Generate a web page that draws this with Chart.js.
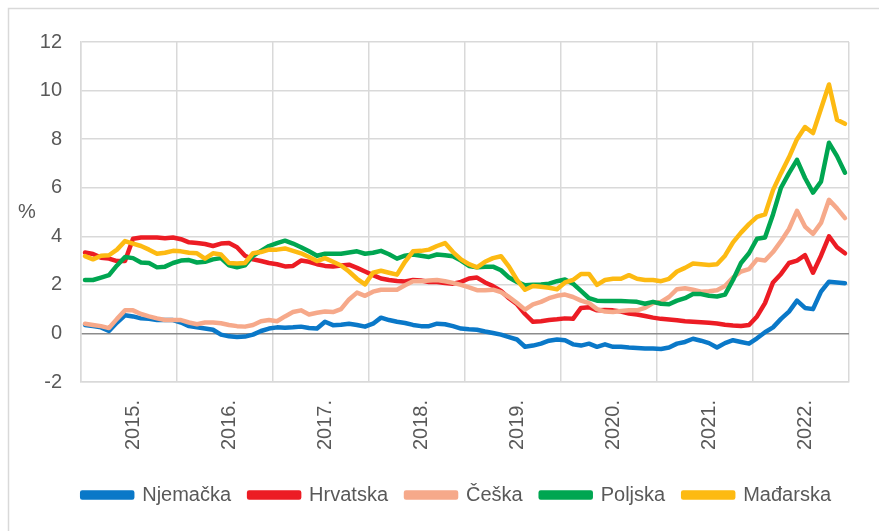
<!DOCTYPE html>
<html>
<head>
<meta charset="utf-8">
<script src="https://cdn.jsdelivr.net/npm/chart.js@4/dist/chart.umd.min.js"></script>
<style>
  html, body { margin: 0; padding: 0; background: #fff; }
  canvas { display: block; }
</style>
</head>
<body>
<canvas id="chart" width="879" height="531"></canvas>
<script>
const years = ['2015.', '2016.', '2017.', '2018.', '2019.', '2020.', '2021.', '2022.'];

// monthly categories, 12 per year
const months = [];
for (let y = 2015; y <= 2022; y++) {
    for (let m = 1; m <= 12; m++) {
        months.push(y + '-' + String(m).padStart(2, '0'));
    }
}

const njemacka = [
    0.35, 0.3, 0.25, 0.1, 0.45, 0.75, 0.7, 0.62, 0.6, 0.55, 0.55, 0.55,
    0.45, 0.3, 0.25, 0.2, 0.15, -0.05, -0.12, -0.15, -0.13, -0.05, 0.1, 0.2,
    0.25, 0.23, 0.25, 0.28, 0.22, 0.2, 0.48, 0.34, 0.36, 0.4, 0.35, 0.28,
    0.4, 0.65, 0.55, 0.48, 0.43, 0.35, 0.3, 0.3, 0.4, 0.38, 0.3, 0.2,
    0.17, 0.15, 0.08, 0.02, -0.05, -0.15, -0.25, -0.55, -0.5, -0.42, -0.3, -0.25,
    -0.28, -0.45, -0.5, -0.42, -0.55, -0.45, -0.55, -0.55, -0.58, -0.6, -0.62, -0.62,
    -0.64, -0.58, -0.42, -0.35, -0.22, -0.3, -0.4, -0.58, -0.4, -0.28, -0.35, -0.42,
    -0.2, 0.05, 0.25, 0.6, 0.9, 1.35, 1.05, 1.0, 1.72, 2.13, 2.1, 2.07
];
const hrvatska = [
    3.33, 3.27, 3.12, 3.08, 2.98, 2.98, 3.9, 3.95, 3.95, 3.95, 3.92, 3.95,
    3.88, 3.75, 3.72, 3.68, 3.6, 3.7, 3.72, 3.55, 3.2, 3.05, 2.98, 2.9,
    2.85, 2.76, 2.78, 3.0, 2.95, 2.85, 2.78, 2.76, 2.8, 2.83, 2.7, 2.55,
    2.4, 2.26, 2.2, 2.16, 2.14, 2.2, 2.18, 2.12, 2.12, 2.08, 2.05, 2.12,
    2.26, 2.3, 2.1, 1.95, 1.75, 1.45, 1.2, 0.8, 0.48, 0.5, 0.55, 0.58,
    0.62, 0.6, 1.05, 1.08, 0.95, 0.96, 0.95, 0.9, 0.82, 0.78, 0.72, 0.65,
    0.6, 0.57, 0.54, 0.5, 0.48, 0.46, 0.44, 0.41, 0.36, 0.33, 0.31, 0.35,
    0.7, 1.25, 2.1, 2.45, 2.9, 3.0, 3.22, 2.5, 3.2, 4.0, 3.55, 3.3
];
const ceska = [
    0.4, 0.35, 0.3, 0.22, 0.6, 0.95, 0.95, 0.8, 0.7, 0.62, 0.55, 0.55,
    0.55, 0.45, 0.38, 0.45, 0.45, 0.42, 0.35, 0.3, 0.28, 0.35, 0.5, 0.55,
    0.5, 0.7, 0.88, 0.95, 0.78, 0.85, 0.9, 0.88, 1.0, 1.4, 1.68, 1.55,
    1.72, 1.8, 1.8, 1.8, 1.98, 2.15, 2.15, 2.18, 2.2, 2.15, 2.08, 2.0,
    1.9, 1.78, 1.78, 1.8, 1.7, 1.5, 1.25, 0.98, 1.2, 1.3, 1.45, 1.55,
    1.6, 1.5, 1.35, 1.25, 1.0, 0.9, 0.88, 0.92, 0.95, 0.95, 1.05, 1.25,
    1.3, 1.5, 1.82, 1.86, 1.8, 1.72, 1.74, 1.78, 1.95, 2.3, 2.55, 2.65,
    3.05, 3.0, 3.35, 3.8, 4.3, 5.05, 4.4, 4.1, 4.55, 5.5, 5.15, 4.75
];
const poljska = [
    2.2, 2.2, 2.3, 2.4, 2.8, 3.15, 3.1, 2.92, 2.9, 2.72, 2.75, 2.9,
    3.0, 3.02, 2.92, 2.95, 3.05, 3.1, 2.8, 2.72, 2.8, 3.2, 3.4, 3.6,
    3.72, 3.82, 3.7, 3.55, 3.38, 3.2, 3.28, 3.28, 3.28, 3.33, 3.38, 3.28,
    3.32, 3.4, 3.26, 3.08, 3.2, 3.25, 3.2, 3.15, 3.25, 3.22, 3.18, 3.0,
    2.78, 2.72, 2.75, 2.75, 2.6, 2.3, 2.12, 1.98, 2.0, 2.02, 2.05, 2.15,
    2.22, 2.05, 1.75, 1.45, 1.35, 1.34, 1.34, 1.34, 1.32, 1.3, 1.22, 1.3,
    1.22, 1.2, 1.35, 1.45, 1.62, 1.62, 1.55, 1.52, 1.6, 2.2, 2.9, 3.3,
    3.9, 3.95, 4.9, 6.0, 6.6, 7.15, 6.4, 5.8, 6.25, 7.85, 7.3, 6.62
];
const madarska = [
    3.18, 3.05, 3.2, 3.22, 3.45, 3.8, 3.7, 3.6, 3.45, 3.28, 3.32, 3.4,
    3.38, 3.32, 3.3, 3.08, 3.3, 3.25, 2.9, 2.88, 2.9, 3.3, 3.35, 3.45,
    3.45, 3.5, 3.4, 3.3, 3.15, 2.98, 3.1, 2.95, 2.8, 2.55, 2.25, 2.02,
    2.5, 2.58, 2.5, 2.42, 2.95, 3.38, 3.4, 3.45, 3.6, 3.72, 3.35, 3.05,
    2.85, 2.72, 2.95, 3.1, 3.18, 2.75, 2.2, 1.8, 1.95, 1.92, 1.88, 1.82,
    2.1, 2.2, 2.45, 2.45, 2.0, 2.2, 2.25, 2.25, 2.4, 2.25, 2.2, 2.2,
    2.15, 2.25, 2.55, 2.7, 2.88, 2.85, 2.82, 2.85, 3.2, 3.75, 4.15, 4.5,
    4.8, 4.9, 5.9, 6.6, 7.25, 8.0, 8.5, 8.25, 9.25, 10.25, 8.8, 8.63
];

const textColor = '#595959';
const gridColor = '#d9d9d9';
const fontFamily = '"Liberation Sans", Arial, sans-serif';

function series(label, data, color, order) {
    return {
        label: label,
        data: data,
        borderColor: color,
        backgroundColor: color,
        borderWidth: 4.5,
        pointRadius: 0,
        tension: 0,
        borderCapStyle: 'round',
        borderJoinStyle: 'round',
        order: order
    };
}

// white background, outer frame and the "%" label
const decor = {
    id: 'decor',
    beforeDraw(chart) {
        const c = chart.ctx;
        c.save();
        c.fillStyle = '#fff';
        c.fillRect(0, 0, chart.width, chart.height);
        c.strokeStyle = gridColor;
        c.lineWidth = 1.5;
        c.beginPath();
        c.moveTo(8.5, chart.height);
        c.lineTo(8.5, 8.5);
        c.lineTo(chart.width, 8.5);
        c.stroke();
        c.restore();
    },
    afterDraw(chart) {
        const c = chart.ctx;
        c.save();
        c.fillStyle = textColor;
        c.font = '20px ' + fontFamily;
        c.textAlign = 'center';
        c.textBaseline = 'middle';
        c.fillText('%', 27, 212);
        c.restore();
    }
};

new Chart(document.getElementById('chart'), {
    type: 'line',
    data: {
        labels: months,
        datasets: [
            series('Njemačka', njemacka, '#0a78c8', 5),
            series('Hrvatska', hrvatska, '#ec1c24', 4),
            series('Češka', ceska, '#f6a98a', 3),
            series('Poljska', poljska, '#00a651', 2),
            series('Mađarska', madarska, '#fdba12', 1)
        ]
    },
    options: {
        responsive: false,
        animation: false,
        devicePixelRatio: 1,
        layout: { padding: { top: 42, right: 30, left: 0, bottom: 16 } },
        font: { family: fontFamily },
        plugins: {
            tooltip: { enabled: false },
            legend: {
                position: 'bottom',
                align: 'end',
                labels: {
                    color: textColor,
                    font: { size: 20, family: fontFamily },
                    boxWidth: 50,
                    boxHeight: 5,
                    padding: 18,
                    sort: (a, b) => a.datasetIndex - b.datasetIndex
                }
            }
        },
        scales: {
            x: {
                offset: true,
                grid: {
                    offset: true,
                    drawTicks: false,
                    lineWidth: 1.5,
                    color: ctx => (ctx.index === undefined || ctx.index % 12 === 0) ? gridColor : 'rgba(0,0,0,0)'
                },
                border: { color: gridColor, width: 1.5 },
                ticks: {
                    autoSkip: false,
                    minRotation: 90,
                    maxRotation: 90,
                    padding: 18,
                    color: textColor,
                    font: { size: 20, family: fontFamily },
                    callback: (v, i) => i % 12 === 6 ? years[Math.floor(i / 12)] : ''
                },
                afterFit: scale => {
                    scale.height = 85;
                    scale.paddingLeft = 0;
                    scale.paddingRight = 0;
                }
            },
            y: {
                min: -2,
                max: 12,
                ticks: {
                    stepSize: 2,
                    padding: 19,
                    color: textColor,
                    font: { size: 20, family: fontFamily }
                },
                grid: {
                    drawTicks: false,
                    lineWidth: 1.5,
                    color: ctx => ctx.tick.value === 0 ? '#8c8c8c' : gridColor
                },
                border: { color: gridColor, width: 1.5 },
                afterFit: scale => { scale.width = 81; }
            }
        }
    },
    plugins: [decor]
});
</script>
</body>
</html>
